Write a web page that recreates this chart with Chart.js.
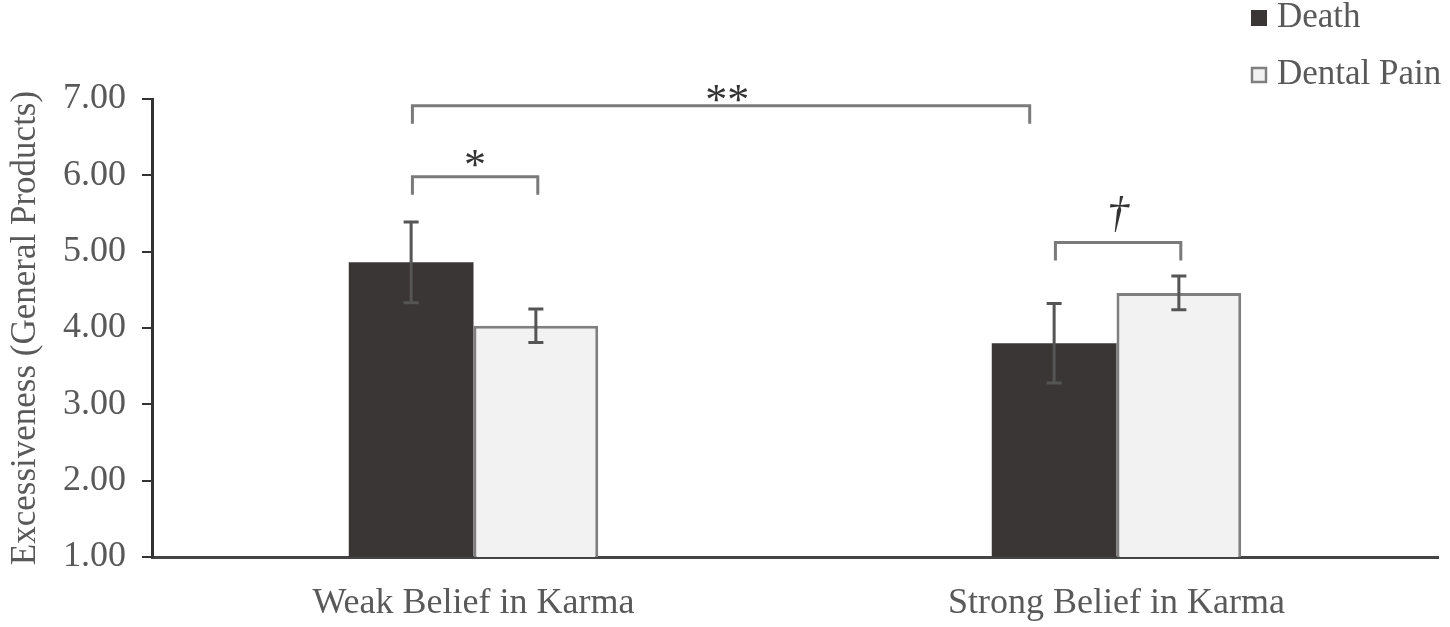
<!DOCTYPE html>
<html lang="en">

<head>
    <meta charset="UTF-8">
    <title>Excessiveness by Belief in Karma</title>
    <script src="https://cdn.jsdelivr.net/npm/chart.js/dist/chart.umd.min.js"></script>
    <style>
        html, body { margin: 0; padding: 0; background: #fff; }
        #wrap { width: 1450px; height: 627px; }
    </style>
</head>

<body>
    <div id="wrap"><canvas id="myChart"></canvas></div>
    <script>
        // data
        const groups = ['Weak Belief in Karma', 'Strong Belief in Karma'];
        const seriesNames = ['Death', 'Dental Pain'];
        const deathMeans = [4.86, 3.80];
        const dentalMeans = [4.03, 4.46];
        const deathErrors = [0.53, 0.52];
        const dentalErrors = [0.22, 0.22];
        const yTicks = [1, 2, 3, 4, 5, 6, 7];

        // significance marks: category index range and height (y value)
        const brackets = [
            { from: -0.095, to: 0.865, y: 6.91, label: '**', size: 44, dy: 8, italic: false },
            { from: -0.095, to: 0.100, y: 5.98, label: '*', size: 44, dy: 2, italic: false },
            { from: 0.905, to: 1.100, y: 5.12, label: '\u2020', size: 44, dy: -16, italic: true }
        ];

        const font = 'Liberation Serif, Times New Roman, serif';
        const textColor = '#595959';

        const errorBars = {
            id: 'errorBars',
            afterDatasetsDraw(chart) {
                const ctx = chart.ctx;
                const y = chart.scales.y;
                const errs = [deathErrors, dentalErrors];
                ctx.save();
                ctx.strokeStyle = '#555';
                ctx.lineWidth = 3;
                chart.data.datasets.forEach((ds, i) => {
                    chart.getDatasetMeta(i).data.forEach((bar, j) => {
                        const v = ds.data[j];
                        const e = errs[i][j];
                        const top = y.getPixelForValue(v + e);
                        const bot = y.getPixelForValue(v - e);
                        ctx.beginPath();
                        ctx.moveTo(bar.x, top);
                        ctx.lineTo(bar.x, bot);
                        ctx.moveTo(bar.x - 7.5, top);
                        ctx.lineTo(bar.x + 7.5, top);
                        ctx.moveTo(bar.x - 7.5, bot);
                        ctx.lineTo(bar.x + 7.5, bot);
                        ctx.stroke();
                    });
                });
                ctx.restore();
            }
        };

        const sigMarks = {
            id: 'sigMarks',
            afterDraw(chart) {
                const ctx = chart.ctx;
                const x = chart.scales.x;
                const y = chart.scales.y;
                ctx.save();
                brackets.forEach(b => {
                    const x1 = x.getPixelForValue(b.from);
                    const x2 = x.getPixelForValue(b.to);
                    const yy = y.getPixelForValue(b.y);
                    ctx.strokeStyle = '#7a7a7a';
                    ctx.lineWidth = 3;
                    ctx.beginPath();
                    ctx.moveTo(x1, yy + 18);
                    ctx.lineTo(x1, yy);
                    ctx.lineTo(x2, yy);
                    ctx.lineTo(x2, yy + 18);
                    ctx.stroke();
                    ctx.fillStyle = '#333';
                    ctx.font = (b.italic ? 'italic ' : '') + b.size + 'px ' + font;
                    ctx.textAlign = 'center';
                    ctx.textBaseline = 'alphabetic';
                    const mid = b.to - b.from > 0.5 ? x1 + (x2 - x1) * 0.51 : (x1 + x2) / 2;
                    ctx.fillText(b.label, mid, yy + b.dy);
                });
                ctx.restore();
            }
        };

        const sideLegend = {
            id: 'sideLegend',
            afterDraw(chart) {
                const ctx = chart.ctx;
                ctx.save();
                ctx.font = '35px ' + font;
                ctx.textBaseline = 'middle';
                ctx.textAlign = 'left';
                chart.data.datasets.forEach((ds, i) => {
                    const cy = 18 + i * 57;
                    ctx.fillStyle = ds.backgroundColor;
                    ctx.fillRect(1251, cy - 8, 16, 16);
                    if (ds.borderWidth) {
                        ctx.strokeStyle = ds.borderColor;
                        ctx.lineWidth = 2.5;
                        ctx.strokeRect(1252, cy - 7, 14, 14);
                    }
                    ctx.fillStyle = textColor;
                    ctx.fillText(ds.label, 1277, cy);
                });
                ctx.restore();
            }
        };

        const ctx = document.getElementById('myChart').getContext('2d');
        const myChart = new Chart(ctx, {
            type: 'bar',
            data: {
                labels: groups,
                datasets: [{
                    label: seriesNames[0],
                    data: deathMeans,
                    backgroundColor: '#3a3636',
                    borderColor: '#3a3636',
                    borderWidth: 0
                }, {
                    label: seriesNames[1],
                    data: dentalMeans,
                    backgroundColor: '#f2f2f2',
                    borderColor: '#7f7f7f',
                    borderWidth: 3
                }]
            },
            options: {
                responsive: true,
                maintainAspectRatio: false,
                animation: false,
                layout: { padding: { top: 99, right: 12, left: 0, bottom: 0 } },
                datasets: { bar: { barPercentage: 1, categoryPercentage: 0.388 } },
                plugins: {
                    legend: { display: false },
                    tooltip: { enabled: false }
                },
                scales: {
                    x: {
                        grid: { display: false },
                        border: { display: true, color: '#444', width: 3 },
                        ticks: { color: textColor, font: { family: font, size: 36 }, padding: 17 },
                        afterFit(scale) { scale.height = 70; }
                    },
                    y: {
                        min: 1,
                        max: 7,
                        afterBuildTicks(scale) {
                            scale.ticks = yTicks.map(v => ({ value: v }));
                        },
                        title: {
                            display: true,
                            text: 'Excessiveness (General Products)',
                            color: textColor,
                            font: { family: font, size: 35 },
                            padding: { top: 5, bottom: 0 }
                        },
                        grid: { drawOnChartArea: false, drawTicks: true, tickLength: 10, color: '#333', lineWidth: 2 },
                        border: { display: true, color: '#333', width: 3 },
                        ticks: {
                            color: textColor,
                            font: { family: font, size: 36 },
                            padding: 16,
                            callback: v => v.toFixed(2)
                        }
                    }
                }
            },
            plugins: [errorBars, sigMarks, sideLegend]
        });
    </script>
</body>

</html>
